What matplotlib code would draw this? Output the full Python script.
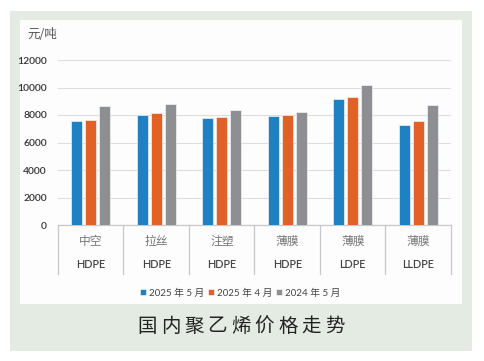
import numpy as np
import matplotlib
matplotlib.use('Agg')
import matplotlib.pyplot as plt
from matplotlib.patches import Rectangle

plt.rcParams['font.family'] = ['Lato', 'Noto Sans CJK SC', 'DejaVu Sans']

# Data
categories = ['中空', '拉丝', '注塑', '薄膜', '薄膜', '薄膜']
grades = ['HDPE', 'HDPE', 'HDPE', 'HDPE', 'LDPE', 'LLDPE']
series_names = ['2025 年 5 月', '2025 年 4 月', '2024 年 5 月']
may_2025 = [7600, 8000, 7750, 7950, 9150, 7300]
apr_2025 = [7650, 8120, 7820, 8000, 9280, 7560]
may_2024 = [8620, 8770, 8400, 8220, 10200, 8730]
colors = ['#1f80c2', '#e36026', '#8d8f92']
yticks = [0, 2000, 4000, 6000, 8000, 10000, 12000]
title = '国内聚乙烯价格走势'

W, H = 485, 361
fig = plt.figure(figsize=(W / 100, H / 100), dpi=100)
fig.patch.set_facecolor('white')

# green panel and white inner card
fig.patches.append(Rectangle((10 / W, 1 - 351 / H), 462 / W, 340 / H,
                             transform=fig.transFigure, facecolor='#e3ebe2',
                             edgecolor='none', zorder=-2))
fig.patches.append(Rectangle((20 / W, 1 - 304 / H), 442 / W, 284 / H,
                             transform=fig.transFigure, facecolor='#fdfdfd',
                             edgecolor='none', zorder=-1))

ax = fig.add_axes([58 / W, 1 - 225 / H, 393 / W, 165 / H])
ax.set_zorder(2)
ax.set_facecolor('none')

x = np.arange(len(categories))
width = 0.17
step = 0.214
for i, vals in enumerate([may_2025, apr_2025, may_2024]):
    ax.bar(x + (i - 1) * step, vals, width, color=colors[i],
           edgecolor='#ffffff', linewidth=0.4, label=series_names[i], zorder=3)

ax.set_xlim(-0.5, len(categories) - 0.5)
ax.set_ylim(0, 12000)
ax.set_yticks(yticks)
ax.set_yticklabels([str(v) for v in yticks], fontsize=7.5, color='#333333',
                   fontweight='semibold')
ax.tick_params(axis='y', length=0, pad=8)
ax.set_xticks([])
ax.grid(axis='y', color='#dddddd', linewidth=0.8, zorder=0)
for s in ['top', 'right', 'left']:
    ax.spines[s].set_visible(False)
ax.spines['bottom'].set_color('#c8c8c8')
ax.spines['bottom'].set_linewidth(0.9)

# two-row category labels with separators
trans = ax.get_xaxis_transform()
for i in range(len(categories)):
    ax.text(i, -16 / 165, categories[i], transform=trans, ha='center', va='center',
            fontsize=8.5, color='#777777', family=['Noto Sans CJK SC'])
    ax.text(i, -40 / 165, grades[i], transform=trans, ha='center', va='center',
            fontsize=7.8, color='#444444', fontweight='semibold')
for b in np.arange(len(categories) + 1) - 0.5:
    ax.plot([b, b], [0, -49 / 165], transform=trans, color='#c8c8c8',
            linewidth=0.9, clip_on=False)

fig.text(27 / W, 1 - 34 / H, '元/吨', fontsize=9, color='#555555',
         ha='left', va='center', family=['Noto Sans CJK SC'])

leg = fig.legend(loc='center', bbox_to_anchor=(240 / W, 1 - 293 / H), ncol=3,
                 frameon=False, fontsize=7, handlelength=0.6, handleheight=0.6,
                 handletextpad=0.3, columnspacing=0.4)
for t in leg.get_texts():
    t.set_color('#444444')

# spaced-out caption
for k, ch in enumerate(title):
    fig.text((147 + 23.5 * k) / W, 1 - 326 / H, ch, fontsize=14, color='#222222',
             ha='center', va='center', family=['Noto Sans CJK SC'])

fig.savefig('out.png', dpi=100)
